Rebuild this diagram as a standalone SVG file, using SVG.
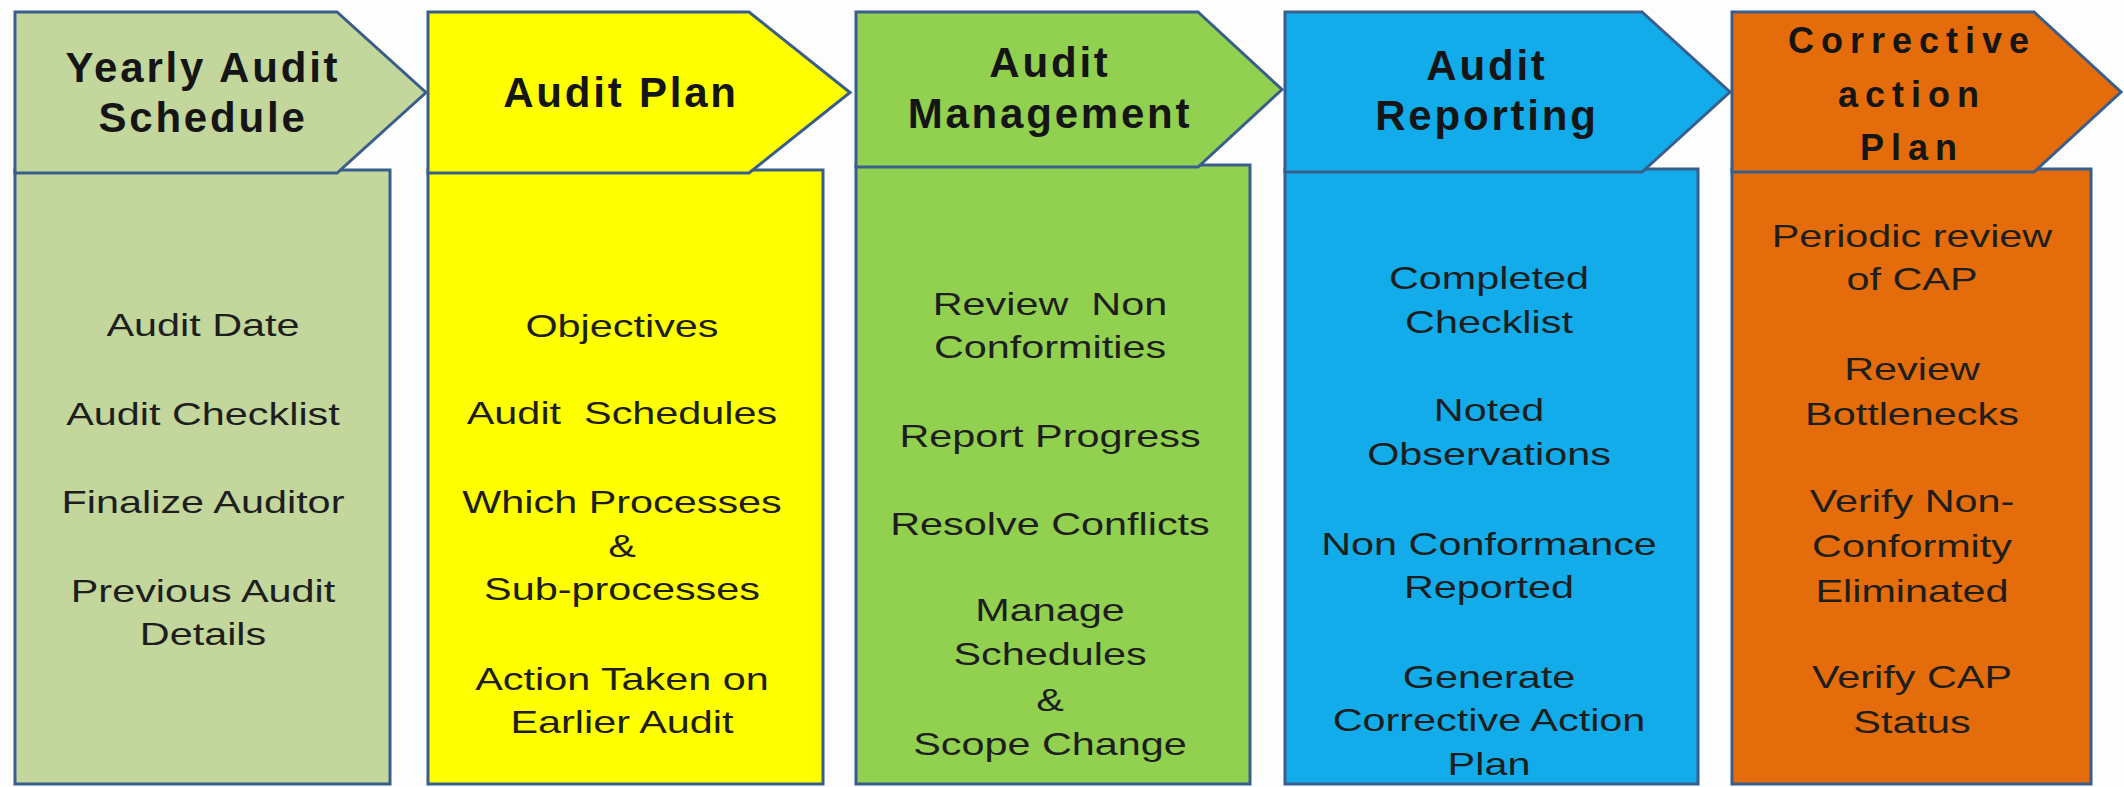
<svg xmlns="http://www.w3.org/2000/svg" width="2124" height="787" viewBox="0 0 2124 787">
<style>
.sh{stroke:#3A5E8C;stroke-width:3;stroke-linejoin:miter}
.hd{font-family:"Liberation Sans",Arial,sans-serif;font-weight:bold;font-size:42px;letter-spacing:2.8px;fill:#151515;text-anchor:middle}
.hd5{font-family:"Liberation Sans",Arial,sans-serif;font-weight:bold;font-size:36px;letter-spacing:7px;fill:#151515;text-anchor:middle}
.bd{font-family:"Liberation Sans",Arial,sans-serif;font-size:31px;fill:#1e1e1e;text-anchor:middle}
</style>
<rect width="2124" height="787" fill="#fdfdfd"/>
<g id="connectors"/>
<g id="node-yearly-audit-schedule">
<rect class="sh" x="15" y="170" width="375" height="614" fill="#C3D69B"/>
<polygon class="sh" points="15,12 337,12 426,92.5 337,173 15,173" fill="#C3D69B"/>
<text class="hd" x="203" y="82">Yearly Audit</text>
<text class="hd" x="203" y="132">Schedule</text>
<g transform="translate(203 0) scale(1.335 1)">
<text class="bd" x="0" y="336">Audit Date</text>
<text class="bd" x="0" y="425">Audit Checklist</text>
<text class="bd" x="0" y="513">Finalize Auditor</text>
<text class="bd" x="0" y="602">Previous Audit</text>
<text class="bd" x="0" y="645">Details</text>
</g>
</g>
<g id="node-audit-plan">
<rect class="sh" x="428" y="170" width="395" height="614" fill="#FFFF00"/>
<polygon class="sh" points="428,12 749,12 850,92.5 749,173 428,173" fill="#FFFF00"/>
<text class="hd" x="621" y="107">Audit Plan</text>
<g transform="translate(622 0) scale(1.335 1)">
<text class="bd" x="0" y="337">Objectives</text>
<text class="bd" x="0" y="424" xml:space="preserve">Audit  Schedules</text>
<text class="bd" x="0" y="513">Which Processes</text>
<text class="bd" x="0" y="557">&amp;</text>
<text class="bd" x="0" y="600">Sub-processes</text>
<text class="bd" x="0" y="690">Action Taken on</text>
<text class="bd" x="0" y="733">Earlier Audit</text>
</g>
</g>
<g id="node-audit-management">
<rect class="sh" x="856" y="165" width="394" height="619" fill="#92D050"/>
<polygon class="sh" points="856,12 1198,12 1282,89.5 1198,167 856,167" fill="#92D050"/>
<text class="hd" x="1050" y="77">Audit</text>
<text class="hd" x="1050" y="128">Management</text>
<g transform="translate(1050 0) scale(1.335 1)">
<text class="bd" x="0" y="315" xml:space="preserve">Review  Non</text>
<text class="bd" x="0" y="358">Conformities</text>
<text class="bd" x="0" y="447">Report Progress</text>
<text class="bd" x="0" y="535">Resolve Conflicts</text>
<text class="bd" x="0" y="621">Manage</text>
<text class="bd" x="0" y="665">Schedules</text>
<text class="bd" x="0" y="711">&amp;</text>
<text class="bd" x="0" y="755">Scope Change</text>
</g>
</g>
<g id="node-audit-reporting">
<rect class="sh" x="1285" y="169" width="413" height="615" fill="#12ACEA"/>
<polygon class="sh" points="1285,12 1642,12 1730,92 1642,172 1285,172" fill="#12ACEA"/>
<text class="hd" x="1487" y="80">Audit</text>
<text class="hd" x="1487" y="130">Reporting</text>
<g transform="translate(1489 0) scale(1.335 1)">
<text class="bd" x="0" y="289">Completed</text>
<text class="bd" x="0" y="333">Checklist</text>
<text class="bd" x="0" y="421">Noted</text>
<text class="bd" x="0" y="465">Observations</text>
<text class="bd" x="0" y="555">Non Conformance</text>
<text class="bd" x="0" y="598">Reported</text>
<text class="bd" x="0" y="688">Generate</text>
<text class="bd" x="0" y="731">Corrective Action</text>
<text class="bd" x="0" y="775">Plan</text>
</g>
</g>
<g id="node-corrective-action-plan">
<rect class="sh" x="1732" y="169" width="359" height="615" fill="#E46C0A"/>
<polygon class="sh" points="1732,12 2034,12 2121,92 2034,172 1732,172" fill="#E46C0A"/>
<text class="hd5" x="1912" y="53">Corrective</text>
<text class="hd5" x="1912" y="107">action</text>
<text class="hd5" x="1912" y="160">Plan</text>
<g transform="translate(1912 0) scale(1.335 1)">
<text class="bd" x="0" y="247">Periodic review</text>
<text class="bd" x="0" y="290">of CAP</text>
<text class="bd" x="0" y="380">Review</text>
<text class="bd" x="0" y="425">Bottlenecks</text>
<text class="bd" x="0" y="512">Verify Non-</text>
<text class="bd" x="0" y="557">Conformity</text>
<text class="bd" x="0" y="602">Eliminated</text>
<text class="bd" x="0" y="688">Verify CAP</text>
<text class="bd" x="0" y="733">Status</text>
</g>
</g>
</svg>
